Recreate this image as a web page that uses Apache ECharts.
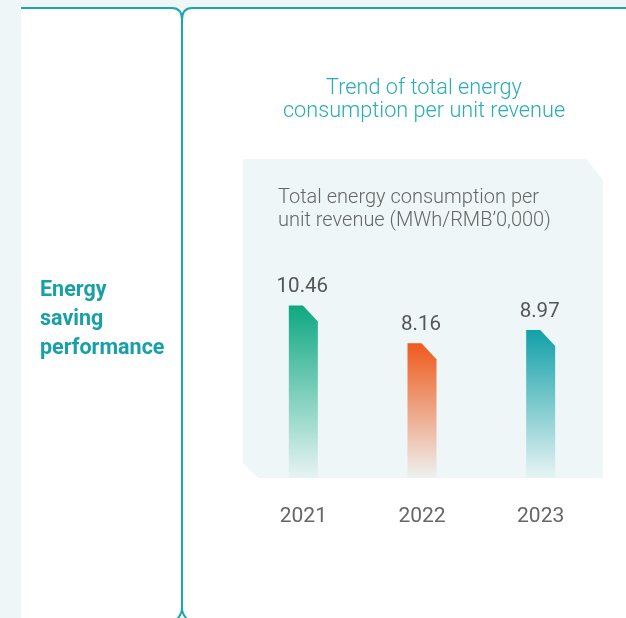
<!DOCTYPE html>
<html>
<head>
<meta charset="utf-8">
<script src="https://cdn.jsdelivr.net/npm/echarts@6/dist/echarts.min.js"></script>
<style>
  html, body { margin: 0; padding: 0; background: #fff; }
  #main { width: 626px; height: 618px; }
</style>
</head>
<body>
<div id="main"></div>
<script>
var years = ['2021', '2022', '2023'];
var values = [10.46, 8.16, 8.97];
var barColors = ['#0ea881', '#ee5a1c', '#11a0a7'];

var myChart = echarts.init(document.getElementById('main'));
var teal = '#1ba7b0';
var panelBg = '#eef6f7';
var frame = { stroke: teal, lineWidth: 2, fill: null };

function curve(x1, y1, cx, cy, x2, y2) {
    return { type: 'bezierCurve', z: 5, shape: { x1: x1, y1: y1, cpx1: cx, cpy1: cy, x2: x2, y2: y2 }, style: frame };
}
function line(x1, y1, x2, y2) {
    return { type: 'line', z: 5, shape: { x1: x1, y1: y1, x2: x2, y2: y2 }, style: frame };
}

option = {
    backgroundColor: '#fff',
    animation: false,
    grid: { left: 244, right: 26, top: 280, bottom: 140 },
    xAxis: {
        type: 'category',
        data: years,
        axisLine: { show: false },
        axisTick: { show: false },
        axisLabel: { color: '#666', fontSize: 21, fontFamily: 'Roboto', margin: 28 }
    },
    yAxis: {
        type: 'value',
        min: 0,
        max: 12,
        show: false
    },
    graphic: [
        // outer light strips
        { type: 'rect', shape: { x: 0, y: 0, width: 626, height: 8 }, style: { fill: panelBg }, z: -10 },
        { type: 'rect', shape: { x: 0, y: 0, width: 21, height: 618 }, style: { fill: panelBg }, z: -10 },
        // frame lines
        line(21, 8, 172, 8),
        curve(172, 8, 182, 8, 182, 20),
        curve(192, 8, 182, 8, 182, 20),
        line(192, 8, 626, 8),
        line(182, 20, 182, 608),
        curve(182, 608, 182, 614, 177, 619),
        curve(182, 608, 182, 614, 187, 619),
        // panel
        {
            type: 'polygon', z: -5,
            shape: { points: [[243, 159], [586, 159], [603, 180], [603, 478], [258, 478], [243, 463]] },
            style: { fill: panelBg }
        },
        {
            type: 'text', left: 40, top: 276, z: 10,
            style: { text: 'Energy\nsaving\nperformance', fill: '#17a0a8', font: 'bold 21.5px Roboto', lineHeight: 29 }
        },
        {
            type: 'text', x: 424, y: 77, z: 10,
            style: { text: 'Trend of total energy\nconsumption per unit revenue', fill: '#26adb5', font: '300 21.7px Roboto', lineHeight: 23, align: 'center' }
        },
        {
            type: 'text', x: 278, y: 186, z: 10,
            style: { text: 'Total energy consumption per\nunit revenue (MWh/RMB\u20190,000)', fill: '#666', font: '300 20px Roboto', lineHeight: 23 }
        }
    ],
    series: [{
        type: 'custom',
        data: values.map(function (v, i) { return [i, v]; }),
        renderItem: function (params, api) {
            var i = api.value(0);
            var top = api.coord([i, api.value(1)]);
            var base = api.coord([i, 0]);
            var w = 29, cut = 15;
            var x0 = top[0] - w / 2, x1 = top[0] + w / 2;
            var c = barColors[params.dataIndex];
            return {
                type: 'group',
                children: [{
                    type: 'polygon',
                    shape: { points: [[x0, top[1]], [x1 - cut, top[1]], [x1, top[1] + cut + 1], [x1, base[1]], [x0, base[1]]] },
                    style: {
                        fill: {
                            type: 'linear', x: 0, y: 0, x2: 0, y2: 1,
                            colorStops: [
                                { offset: 0, color: c },
                                { offset: 1, color: echarts.color.modifyAlpha(c, 0.03) }
                            ]
                        }
                    }
                }, {
                    type: 'text',
                    x: top[0] - 1, y: top[1] - 8,
                    style: { text: api.value(1).toFixed(2), fill: '#555', font: '20.5px Roboto', align: 'center', verticalAlign: 'bottom' }
                }]
            };
        }
    }]
};

myChart.setOption(option);
</script>
</body>
</html>
